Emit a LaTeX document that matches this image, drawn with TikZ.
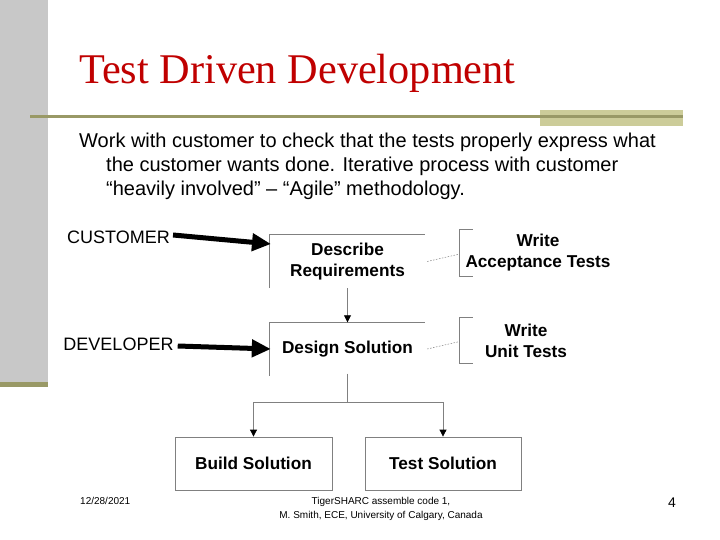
\documentclass[tikz,border=0pt]{standalone}
\usepackage{fontspec}
\setmainfont{Liberation Serif}
\newfontfamily\arial{Liberation Sans}
\usetikzlibrary{arrows.meta}
\definecolor{titlered}{RGB}{192,0,0}
\definecolor{barGray}{RGB}{200,200,200}
\definecolor{olive}{RGB}{153,153,102}
\definecolor{khaki}{RGB}{204,204,153}
\definecolor{lineGray}{RGB}{128,128,128}
\tikzset{
  boxtext/.style={font=\arial\bfseries\fontsize{17.2}{21}\selectfont, align=center, inner sep=0pt},
  openbox/.style={boxtext, minimum width=155pt, minimum height=53pt},
  fullbox/.style={boxtext, draw=lineGray, line width=0.8pt, minimum width=157pt, minimum height=53pt},
  testbox/.style={boxtext, minimum height=46pt},
  boxline/.style={draw=lineGray, line width=0.8pt},
  dashconn/.style={draw=lineGray, line width=0.5pt, dash pattern=on 1.5pt off 1.5pt},
  flow/.style={draw=lineGray, line width=0.8pt},
  flowarr/.style={flow, -{Triangle[length=7pt,width=7pt,fill=black,color=black]}},
  bigarrow/.style={draw=black, line width=5pt, -{Triangle[length=19pt,width=17pt]}},
  role/.style={font=\arial\fontsize{18}{20}\selectfont, inner sep=0pt},
  bodytext/.style={font=\arial\fontsize{20}{24}\selectfont, anchor=base west, inner sep=0pt},
  foot/.style={font=\arial\fontsize{10}{14}\selectfont, inner sep=0pt}
}
\begin{document}
\begin{tikzpicture}[x=1pt,y=-1pt]
\useasboundingbox (0,0) rectangle (720,540);
\fill[white] (0,0) rectangle (720,540);
% left bar
\fill[barGray] (0,0) rectangle (48,382);
\fill[olive] (0,382) rectangle (48,387);
% title rule
\fill[khaki] (540,110) rectangle (683,126);
\draw[olive, line width=3pt] (30,117) -- (683,117);
% title
\node[anchor=base west, inner sep=0pt, text=titlered, font=\fontsize{42.3}{48}\selectfont] (title) at (79,84) {Test Driven Development};
% body text
\node[bodytext] (l1) at (79,148) {Work with customer to check that the tests properly express what};
\node[bodytext] (l2) at (106,172) {the customer wants done. Iterative process with customer};
\node[bodytext] (l3) at (106,196) {“heavily involved” – “Agile” methodology.};
% boxes
\node[openbox] (req) at (347.5,261.5) {Describe\\Requirements};
\draw[boxline] (req.south west) -- (req.north west) -- (req.north east);
\node[openbox] (des) at (347.5,349) {Design Solution};
\draw[boxline] (des.south west) -- (des.north west) -- (des.north east);
\node[fullbox] (build) at (253.5,463.5) {Build Solution};
\node[fullbox, minimum width=156pt] (test) at (443,463.5) {Test Solution};
% test nodes with brackets
\node[testbox, minimum width=156pt] (wat) at (538,253) {Write\\Acceptance Tests};
\draw[boxline] ([xshift=13pt]wat.north west) -- (wat.north west) -- (wat.south west) -- ([xshift=13pt]wat.south west);
\node[testbox, minimum width=132pt, minimum height=45pt] (wut) at (526,340.5) {Write\\Unit Tests};
\draw[boxline] ([xshift=13pt]wut.north west) -- (wut.north west) -- (wut.south west) -- ([xshift=13pt]wut.south west);
\draw[dashconn] ([xshift=2pt]req.east) -- ([yshift=-1pt]wat.west);
\draw[dashconn] ([xshift=2pt]des.east) -- ([yshift=-1pt]wut.west);
% flow
\draw[flowarr] (req.south) -- (des.north);
\coordinate (split) at (347.5,402);
\draw[flow] ([yshift=2pt]des.south) -- (split);
\draw[flowarr] (split) -| (build.north);
\draw[flowarr] (split) -| (test.north);
% roles
\node[role] (cust) at (118.5,237) {CUSTOMER};
\node[role] (dev) at (118.5,344) {DEVELOPER};
\coordinate (custtip) at (271,244);
\draw[bigarrow] ([xshift=3pt,yshift=2pt]cust.east) -- (custtip);
\draw[bigarrow] ([xshift=4pt,yshift=-2pt]dev.east) -- ([xshift=1pt]des.west);
% footer
\node[foot, anchor=west] (date) at (80,501) {12/28/2021};
\node[foot, align=center] (cred) at (381,508.5) {TigerSHARC assemble code 1,\\M. Smith, ECE, University of Calgary, Canada};
\node[font=\arial\fontsize{14}{16}\selectfont, inner sep=0pt] (page) at (672,503) {4};
\end{tikzpicture}
\end{document}
